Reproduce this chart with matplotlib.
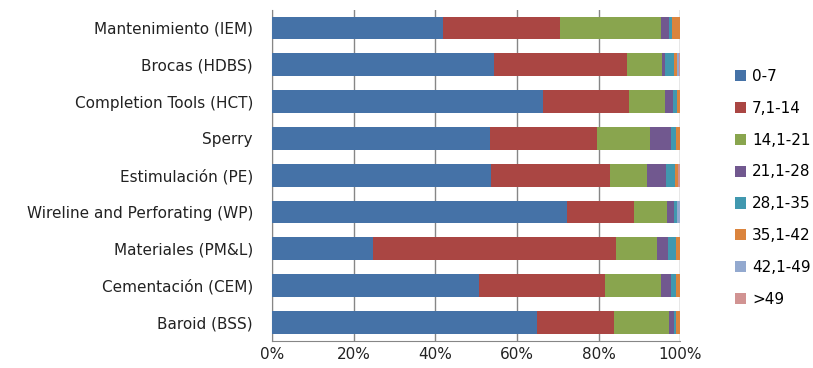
import matplotlib
matplotlib.use("Agg")
import matplotlib.pyplot as plt
import numpy as np

plt.rcParams['font.family'] = ['DejaVu Sans']

categories = ["Mantenimiento (IEM)", "Brocas (HDBS)", "Completion Tools (HCT)", "Sperry",
              "Estimulación (PE)", "Wireline and Perforating (WP)", "Materiales (PM&L)",
              "Cementación (CEM)", "Baroid (BSS)"]
series = ["0-7", "7,1-14", "14,1-21", "21,1-28", "28,1-35", "35,1-42", "42,1-49", ">49"]

# percentages per category, one list per series
s0_7 = [41.9, 54.4, 66.4, 53.4, 53.7, 72.3, 24.7, 50.7, 65.0]
s7_14 = [28.7, 32.5, 21.1, 26.2, 29.1, 16.3, 59.7, 30.9, 18.9]
s14_21 = [24.8, 8.6, 8.8, 13.0, 9.1, 8.2, 10.0, 13.7, 13.4]
s21_28 = [2.0, 0.8, 1.9, 5.1, 4.7, 1.7, 2.6, 2.4, 1.1]
s28_35 = [0.7, 2.3, 1.0, 1.4, 2.1, 0.8, 1.9, 1.4, 0.5]
s35_42 = [1.9, 0.6, 0.8, 0.9, 0.7, 0.0, 1.1, 0.9, 1.1]
s42_49 = [0.0, 0.6, 0.0, 0.0, 0.0, 0.7, 0.0, 0.0, 0.0]
s49 = [0.0, 0.2, 0.0, 0.0, 0.6, 0.0, 0.0, 0.0, 0.0]

colors = ["#4572A7", "#AA4643", "#89A54E", "#71588F", "#4198AF", "#DB843D", "#93A9CF", "#D19392"]

data = [s0_7, s7_14, s14_21, s21_28, s28_35, s35_42, s42_49, s49]

fig = plt.figure(figsize=(8.13, 3.68), dpi=100)
ax = fig.add_axes([0.335, 0.0735, 0.5015, 0.9005])

y = np.arange(len(categories))
left = np.zeros(len(categories))
for name, vals, c in zip(series, data, colors):
    vals = np.array(vals)
    ax.barh(y, vals, left=left, height=0.62, color=c, label=name, zorder=3)
    left += vals

ax.set_ylim(len(categories) - 0.5, -0.5)
ax.set_xlim(0, 100)
ax.set_yticks(y)
ax.set_yticklabels(categories, fontsize=11, color="#222222")
ax.set_xticks(np.arange(0, 101, 20))
ax.set_xticklabels([f"{v}%" for v in range(0, 101, 20)], fontsize=11, color="#222222")
ax.tick_params(axis="y", length=0, pad=14)
ax.tick_params(axis="x", length=0, pad=4)
ax.xaxis.grid(True, color="#868686", linewidth=1, zorder=0)
for s in ["top", "right"]:
    ax.spines[s].set_visible(False)
for s in ["left", "bottom"]:
    ax.spines[s].set_color("#868686")

ax.legend(loc="center left", bbox_to_anchor=(1.1, 0.462), frameon=False, fontsize=11,
          handlelength=0.75, handleheight=0.75, labelspacing=1.1, handletextpad=0.4)

fig.savefig("out.png", dpi=100)
